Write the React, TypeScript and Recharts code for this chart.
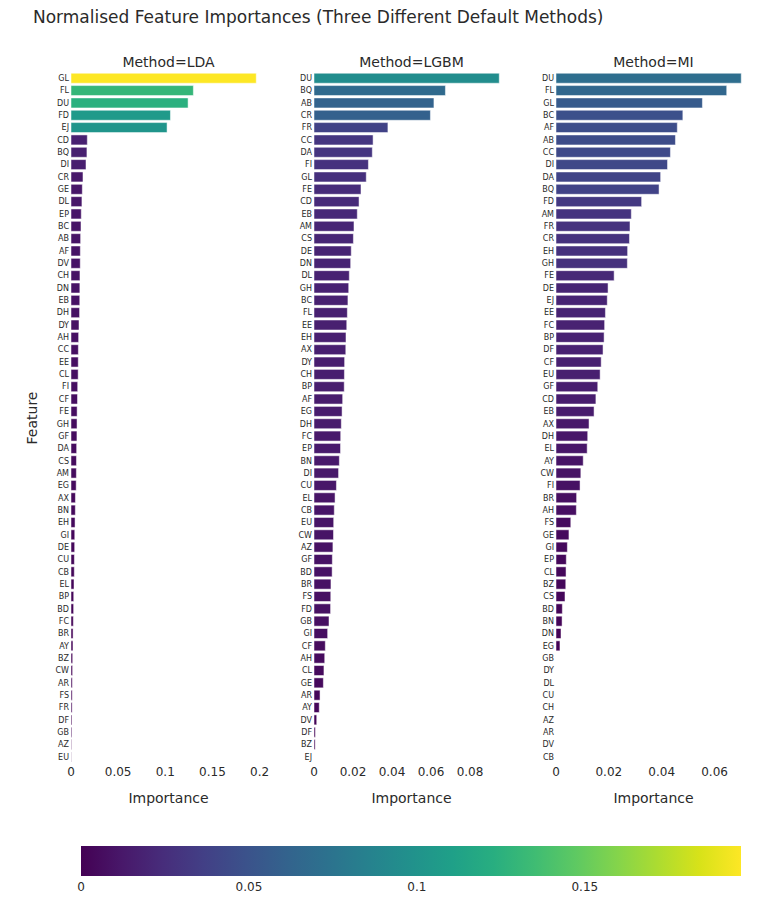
import { BarChart, Bar, XAxis, YAxis, Cell } from "recharts";

// features sorted by importance, one list per method
const LDA_FEATURES = ["GL","FL","DU","FD","EJ","CD","BQ","DI","CR","GE","DL","EP","BC","AB","AF","DV","CH","DN","EB","DH","DY","AH","CC","EE","CL","FI","CF","FE","GH","GF","DA","CS","AM","EG","AX","BN","EH","GI","DE","CU","CB","EL","BP","BD","FC","BR","AY","BZ","CW","AR","FS","FR","DF","GB","AZ","EU"];
const LDA_VALUES = [0.1965,0.1298,0.1242,0.1055,0.1019,0.0173,0.0169,0.0159,0.0127,0.012,0.0116,0.0109,0.0106,0.0102,0.0099,0.0098,0.0095,0.0094,0.0093,0.0091,0.0085,0.0081,0.0078,0.0077,0.0076,0.0071,0.0069,0.0065,0.0064,0.0063,0.006,0.0058,0.0057,0.0055,0.0047,0.0046,0.0043,0.004,0.0039,0.0036,0.0035,0.0032,0.0029,0.0028,0.0025,0.0022,0.0021,0.0018,0.0017,0.0014,0.0013,0.0012,0.001,0.0009,0.0006,0.0003];

const LGBM_FEATURES = ["DU","BQ","AB","CR","FR","CC","DA","FI","GL","FE","CD","EB","AM","CS","DE","DN","DL","GH","BC","FL","EE","EH","AX","DY","CH","BP","AF","EG","DH","FC","EP","BN","DI","CU","EL","CB","EU","CW","AZ","GF","BD","BR","FS","FD","GB","GI","CF","AH","CL","GE","AR","AY","DV","DF","BZ","EJ"];
const LGBM_VALUES = [0.095,0.0674,0.0615,0.0597,0.0379,0.0303,0.0299,0.0279,0.0268,0.0241,0.0231,0.0222,0.0205,0.0202,0.0191,0.0188,0.0181,0.0178,0.0174,0.0171,0.0168,0.0164,0.0163,0.0157,0.0156,0.0155,0.0147,0.0144,0.014,0.0137,0.0136,0.013,0.0126,0.0115,0.0108,0.0104,0.0101,0.01,0.0097,0.0094,0.0093,0.0087,0.0086,0.0085,0.0077,0.007,0.0058,0.0055,0.0051,0.0048,0.0031,0.0027,0.0014,0.0007,0.0006,0];

const MI_FEATURES = ["DU","FL","GL","BC","AF","AB","CC","DI","DA","BQ","FD","AM","FR","CR","EH","GH","FE","DE","EJ","EE","FC","BP","DF","CF","EU","GF","CD","EB","AX","DH","EL","AY","CW","FI","BR","AH","FS","GE","GI","EP","CL","BZ","CS","BD","BN","DN","EG","GB","DY","DL","CU","CH","AZ","AR","DV","CB"];
const MI_VALUES = [0.0701,0.0646,0.0554,0.048,0.0459,0.0452,0.0433,0.0422,0.0396,0.039,0.0324,0.0285,0.028,0.0278,0.0271,0.027,0.022,0.0197,0.0194,0.0187,0.0184,0.0182,0.0178,0.0171,0.0167,0.0158,0.0151,0.0144,0.0125,0.012,0.0118,0.0103,0.0094,0.0091,0.0078,0.0077,0.0056,0.0049,0.0043,0.0039,0.0038,0.0037,0.0034,0.0024,0.0023,0.0019,0.0015,0,0,0,0,0,0,0,0,0];

const LDA_TICKS = [0, 0.05, 0.1, 0.15, 0.2];
const LGBM_TICKS = [0, 0.02, 0.04, 0.06, 0.08];
const MI_TICKS = [0, 0.02, 0.04, 0.06];
const COLORBAR_TICKS = [0, 0.05, 0.1, 0.15];

const VIRIDIS = ["#440154","#48186a","#472d7b","#424086","#3b528b","#33638d","#2c728e","#26828e","#21918c","#1fa088","#28ae80","#3fbc73","#5ec962","#84d44b","#addc30","#d8e219","#fde725"];

const FONT = "'DejaVu Sans', Verdana, sans-serif";
const TEXT = "#2a2a2a";

const CMAX = Math.max(...LDA_VALUES, ...LGBM_VALUES, ...MI_VALUES);

const hexToRgb = (h: string) => [1, 3, 5].map((i) => parseInt(h.slice(i, i + 2), 16));

const viridis = (t: number) => {
  const u = Math.min(1, Math.max(0, t)) * (VIRIDIS.length - 1);
  const i = Math.min(VIRIDIS.length - 2, Math.floor(u));
  const f = u - i;
  const a = hexToRgb(VIRIDIS[i]);
  const b = hexToRgb(VIRIDIS[i + 1]);
  const c = a.map((v, k) => Math.round(v + (b[k] - v) * f));
  return `rgb(${c[0]},${c[1]},${c[2]})`;
};

const PLOT_TOP = 72;
const PLOT_H = 691;
const PLOT_W = 195;
const YAXIS_W = 30;
const XAXIS_H = 30;
const PAD_R = 14; // room for the last tick label

interface PanelProps {
  title: string;
  features: string[];
  values: number[];
  ticks: number[];
  left: number;
}

const Panel = ({ title, features, values, ticks, left }: PanelProps) => {
  const data = features.map((feature, i) => ({ feature, value: values[i] }));
  const max = Math.max(...values) * 1.0526;

  return (
    <>
      <div
        style={{
          position: "absolute",
          left,
          top: 52,
          width: PLOT_W,
          textAlign: "center",
          fontSize: 14,
          color: TEXT,
          lineHeight: "20px",
        }}
      >
        {title}
      </div>
      <div style={{ position: "absolute", left: left - YAXIS_W, top: PLOT_TOP }}>
        <BarChart
          width={PLOT_W + YAXIS_W + PAD_R}
          height={PLOT_H + XAXIS_H}
          data={data}
          layout="vertical"
          margin={{ top: 0, right: PAD_R, bottom: 0, left: 0 }}
          barCategoryGap="10%"
        >
          <XAxis
            type="number"
            domain={[0, max]}
            ticks={ticks}
            height={XAXIS_H}
            axisLine={false}
            tickLine={false}
            tickSize={0}
            tickMargin={4}
            tick={{ fontSize: 12, fill: TEXT, fontFamily: FONT }}
          />
          <YAxis
            type="category"
            dataKey="feature"
            width={YAXIS_W}
            interval={0}
            axisLine={false}
            tickLine={false}
            tickSize={0}
            tickMargin={2}
            tick={{ fontSize: 8, fill: TEXT, fontFamily: FONT }}
          />
          <Bar dataKey="value" isAnimationActive={false} stroke="#ffffff" strokeWidth={0.5}>
            {data.map((d) => (
              <Cell key={d.feature} fill={viridis(d.value / CMAX)} />
            ))}
          </Bar>
        </BarChart>
      </div>
      <div
        style={{
          position: "absolute",
          left,
          top: 788,
          width: PLOT_W,
          textAlign: "center",
          fontSize: 14,
          color: TEXT,
          lineHeight: "20px",
        }}
      >
        Importance
      </div>
    </>
  );
};

const ColorBar = () => {
  const data = [{ name: "scale", value: CMAX }];
  return (
    <div style={{ position: "absolute", left: 81 - 12, top: 846 }}>
      <BarChart
        width={660 + 24}
        height={56}
        data={data}
        layout="vertical"
        margin={{ top: 0, right: 12, bottom: 0, left: 12 }}
        barCategoryGap={0}
      >
        <defs>
          <linearGradient id="viridisGrad" x1="0" y1="0" x2="1" y2="0">
            {VIRIDIS.map((c, i) => (
              <stop key={c} offset={i / (VIRIDIS.length - 1)} stopColor={c} />
            ))}
          </linearGradient>
        </defs>
        <XAxis
          type="number"
          domain={[0, CMAX]}
          ticks={COLORBAR_TICKS}
          height={26}
          axisLine={false}
          tickLine={false}
          tickSize={0}
          tickMargin={6}
          tick={{ fontSize: 12, fill: TEXT, fontFamily: FONT }}
        />
        <YAxis type="category" dataKey="name" hide />
        <Bar dataKey="value" fill="url(#viridisGrad)" isAnimationActive={false} />
      </BarChart>
    </div>
  );
};

export default function App() {
  return (
    <div
      style={{
        position: "absolute",
        left: 0,
        top: 0,
        width: 774,
        height: 909,
        background: "#ffffff",
        fontFamily: FONT,
        color: TEXT,
      }}
    >
      <div style={{ position: "absolute", left: 33, top: 6, fontSize: 17, lineHeight: "22px" }}>
        Normalised Feature Importances (Three Different Default Methods)
      </div>
      <div
        style={{
          position: "absolute",
          left: 32 - 40,
          top: 418 - 10,
          width: 80,
          textAlign: "center",
          fontSize: 14,
          lineHeight: "20px",
          transform: "rotate(-90deg)",
        }}
      >
        Feature
      </div>
      <Panel title="Method=LDA" features={LDA_FEATURES} values={LDA_VALUES} ticks={LDA_TICKS} left={71} />
      <Panel title="Method=LGBM" features={LGBM_FEATURES} values={LGBM_VALUES} ticks={LGBM_TICKS} left={314} />
      <Panel title="Method=MI" features={MI_FEATURES} values={MI_VALUES} ticks={MI_TICKS} left={556} />
      <ColorBar />
    </div>
  );
}
